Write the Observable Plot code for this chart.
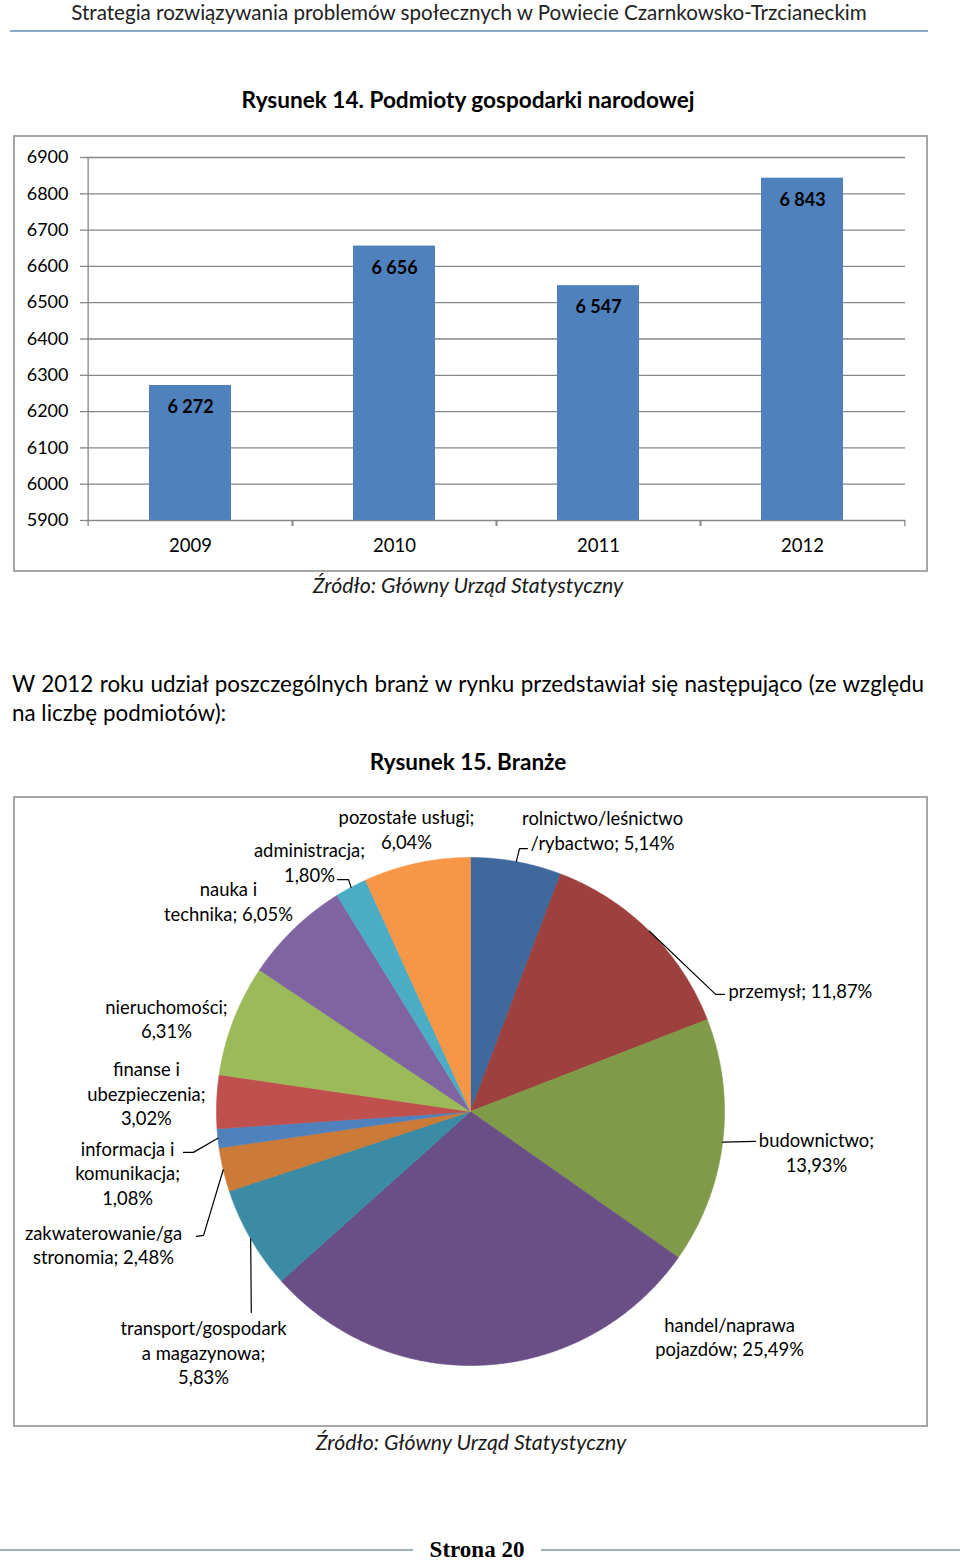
<!DOCTYPE html>
<html><head><meta charset="utf-8">
<script src="https://cdn.jsdelivr.net/npm/d3@7"></script>
<script src="https://cdn.jsdelivr.net/npm/@observablehq/plot@0.6"></script>
<style>
html,body{margin:0;padding:0}
body{width:960px;height:1562px;position:relative;background:#fff;font-family:Lato,sans-serif;color:#000;overflow:hidden}
.abs{position:absolute;white-space:nowrap}
.frame{position:absolute;box-sizing:border-box;border:2px solid #a6a6a6}
.plot{position:absolute}
</style></head><body>
<div class="abs" id="hdr" style="left:0;width:938px;top:0;height:24px;line-height:24px;font-size:20.6px;text-align:center;color:#222">Strategia rozwiązywania problemów społecznych w Powiecie Czarnkowsko-Trzcianeckim</div>
<div class="abs" style="left:10px;top:30px;width:918px;height:2px;background:#8aa8c8"></div>
<div class="abs" style="left:0;width:936px;top:88px;height:24px;line-height:24px;font-size:22.6px;font-weight:bold;text-align:center">Rysunek 14. Podmioty gospodarki narodowej</div>
<div class="frame" style="left:13px;top:135px;width:915px;height:437px"></div>
<div class="plot" id="bars" style="left:14px;top:136px"></div>
<div class="abs" style="left:0;width:936px;top:573px;height:24px;line-height:24px;font-size:21.3px;font-style:italic;text-align:center;color:#1a1a1a">Źródło: Główny Urząd Statystyczny</div>
<div class="abs" style="left:12px;top:669px;width:912px;line-height:29px;font-size:22.4px;white-space:normal;text-align:justify">W 2012 roku udział poszczególnych branż w rynku przedstawiał się następująco (ze względu na liczbę podmiotów):</div>
<div class="abs" style="left:0;width:936px;top:750px;height:24px;line-height:24px;font-size:22.5px;font-weight:bold;text-align:center">Rysunek 15. Branże</div>
<div class="frame" style="left:13px;top:796px;width:915px;height:631px"></div>
<div class="plot" id="pie" style="left:14px;top:797px"></div>
<div class="abs" style="left:0;width:942px;top:1430px;height:24px;line-height:24px;font-size:21.3px;font-style:italic;text-align:center;color:#1a1a1a">Źródło: Główny Urząd Statystyczny</div>
<div class="abs" style="left:0;top:1549px;width:413px;height:2px;background:#9fb0bd"></div>
<div class="abs" style="left:541px;top:1549px;width:419px;height:2px;background:#9fb0bd"></div>
<div class="abs" style="left:0;width:954px;top:1537px;height:26px;line-height:26px;font-size:23px;font-weight:bold;text-align:center;font-family:'Liberation Serif',serif">Strona 20</div>
<script>
// ---- Figure 14 data ----
const years = ["2009", "2010", "2011", "2012"];
const entities = [6272, 6656, 6547, 6843];
const yTicks = [5900, 6000, 6100, 6200, 6300, 6400, 6500, 6600, 6700, 6800, 6900];

// ---- Figure 15 data ----
const sectors = [
  "rolnictwo/leśnictwo/rybactwo", "przemysł", "budownictwo", "handel/naprawa pojazdów",
  "transport/gospodarka magazynowa", "zakwaterowanie/gastronomia", "informacja i komunikacja",
  "finanse i ubezpieczenia", "nieruchomości", "nauka i technika", "administracja", "pozostałe usługi"
];
const shares = [5.14, 11.87, 13.93, 25.49, 5.83, 2.48, 1.08, 3.02, 6.31, 6.05, 1.80, 6.04];
const sectorColors = ["#3f689c", "#9e413e", "#7f9a48", "#6a4f87", "#3a8ba3", "#cc7a38",
                      "#4f81bd", "#c0504d", "#9bbb59", "#8064a2", "#4bacc6", "#f79646"];
// wrapped label text as printed (name part, separator before percentage)
const labelNames = [
  "rolnictwo/leśnictwo\n/rybactwo", "przemysł", "budownictwo", "handel/naprawa\npojazdów",
  "transport/gospodark\na magazynowa", "zakwaterowanie/ga\nstronomia", "informacja i\nkomunikacja",
  "finanse i\nubezpieczenia", "nieruchomości", "nauka i\ntechnika", "administracja", "pozostałe usługi"
];
const labelSeps = ["; ", "; ", ";\n", "; ", ";\n", "; ", ";\n", ";\n", ";\n", "; ", ";\n", ";\n"];

// ---- layout (label anchor and leader elbows, in pie-radius units) ----
const labelLayout = [
  {at: [0.520, 1.110], anchor: "middle", leader: [[0.193, 1.035], [0.224, 1.035]]},
  {at: [1.016, 0.476], anchor: "start", leader: [[0.965, 0.461], [1.0, 0.461]]},
  {at: [1.362, -0.159], anchor: "middle", leader: [[1.122, -0.118]]},
  {at: [1.020, -0.884], anchor: "middle", leader: null},
  {at: [-1.051, -0.947], anchor: "middle", leader: [[-0.863, -0.791]]},
  {at: [-1.445, -0.522], anchor: "middle", leader: [[-1.051, -0.488], [-1.079, -0.492]]},
  {at: [-1.350, -0.240], anchor: "middle", leader: [[-1.091, -0.161], [-1.130, -0.161]]},
  {at: [-1.276, 0.073], anchor: "middle", leader: null},
  {at: [-1.197, 0.368], anchor: "middle", leader: null},
  {at: [-0.953, 0.831], anchor: "middle", leader: null},
  {at: [-0.634, 0.984], anchor: "middle", leader: [[-0.480, 0.913], [-0.524, 0.913]]},
  {at: [-0.252, 1.114], anchor: "middle", leader: null}
];

const font = "Lato, sans-serif";

// ---------- Bar chart ----------
const barData = years.map((year, i) => ({year, value: entities[i]}));
const fmtPL = d3.formatLocale({decimal: ",", thousands: " ", grouping: [3], currency: ["", ""]});
const fmtInt = fmtPL.format(",d");
const bW = 913, bH = 435, bML = 72, bMR = 22;
const step = (bW - bML - bMR) / years.length;
const grid = "#868686";

const bars = Plot.plot({
  width: bW, height: bH, marginLeft: bML, marginRight: bMR, marginTop: 21, marginBottom: 51,
  style: {fontFamily: font, fontSize: "18px", color: "#000", background: "transparent", overflow: "visible"},
  x: {domain: years, paddingInner: 0.6, paddingOuter: 0.3, label: null},
  y: {domain: [5900, 6900], label: null},
  marks: [
    Plot.ruleY(yTicks, {stroke: grid, strokeWidth: 1.3}),
    Plot.barY(barData, {x: "year", y1: 5900, y2: "value", fill: "#4f81bd"}),
    Plot.ruleX(years.slice(0, 1), {x: d => d, dx: -step / 2, y1: 5900, y2: 6900, stroke: grid, strokeWidth: 1.3}),
    Plot.ruleX(years, {x: d => d, dx: -step / 2, y1: 5900, y2: 5900, insetBottom: -6, stroke: grid, strokeWidth: 1.3}),
    Plot.ruleX(years, {x: d => d, dx: step / 2, y1: 5900, y2: 5900, insetBottom: -6, stroke: grid, strokeWidth: 1.3}),
    Plot.axisY({ticks: yTicks, tickSize: 6, tickPadding: 12, tickFormat: d => String(d), stroke: grid, strokeWidth: 1.3, fill: "#000", fontSize: 18}),
    Plot.axisX({tickSize: 0, tickPadding: 18, fontSize: 18.5, fill: "#000"}),
    Plot.text(barData, {x: "year", y: "value", text: d => fmtInt(d.value), dy: 22, fontWeight: "bold", fontSize: 18, fill: "#000"})
  ]
});
document.getElementById("bars").appendChild(bars);

// ---------- Pie chart ----------
const arcs = d3.pie().sort(null).value(d => d)(shares);
const sliceRows = [];
arcs.forEach((a, i) => {
  const name = sectors[i];
  sliceRows.push({name, x: 0, y: 0});
  const n = Math.max(2, Math.ceil((a.endAngle - a.startAngle) / 0.005));
  for (let k = 0; k <= n; k++) {
    const t = a.startAngle + (a.endAngle - a.startAngle) * k / n;
    sliceRows.push({name, x: Math.sin(t), y: Math.cos(t)});
  }
  sliceRows.push({name, x: 0, y: 0});
});

const pctFmt = v => v.toFixed(2).replace(".", ",") + "%";
const leaderRows = [];
const labelRows = [];
arcs.forEach((a, i) => {
  const L = labelLayout[i];
  const mid = (a.startAngle + a.endAngle) / 2;
  labelRows.push({text: labelNames[i] + labelSeps[i] + pctFmt(shares[i]), x: L.at[0], y: L.at[1], anchor: L.anchor});
  if (L.leader) {
    leaderRows.push({name: sectors[i], x: Math.sin(mid), y: Math.cos(mid)});
    L.leader.forEach(p => leaderRows.push({name: sectors[i], x: p[0], y: p[1]}));
  }
});

const pW = 913, pH = 629;
const labelSize = 18.4;
const pie = Plot.plot({
  width: pW, height: pH, marginLeft: 202, marginRight: 203, marginTop: 60, marginBottom: 61,
  style: {fontFamily: font, fontSize: labelSize + "px", color: "#000", background: "transparent", overflow: "visible"},
  x: {domain: [-1, 1], axis: null},
  y: {domain: [-1, 1], axis: null},
  color: {domain: sectors, range: sectorColors},
  marks: [
    Plot.line(sliceRows, {x: "x", y: "y", z: "name", fill: "name", stroke: "name", strokeWidth: 0.6, curve: "linear"}),
    Plot.line(leaderRows, {x: "x", y: "y", z: "name", stroke: "#000", strokeWidth: 1.2, curve: "linear"}),
    Plot.text(labelRows.filter(d => d.anchor === "middle"), {x: "x", y: "y", text: "text", textAnchor: "middle", lineHeight: 24.5 / labelSize, fontSize: labelSize, fill: "#000"}),
    Plot.text(labelRows.filter(d => d.anchor === "start"), {x: "x", y: "y", text: "text", textAnchor: "start", lineHeight: 24.5 / labelSize, fontSize: labelSize, fill: "#000"})
  ]
});
document.getElementById("pie").appendChild(pie);
</script>
</body></html>
